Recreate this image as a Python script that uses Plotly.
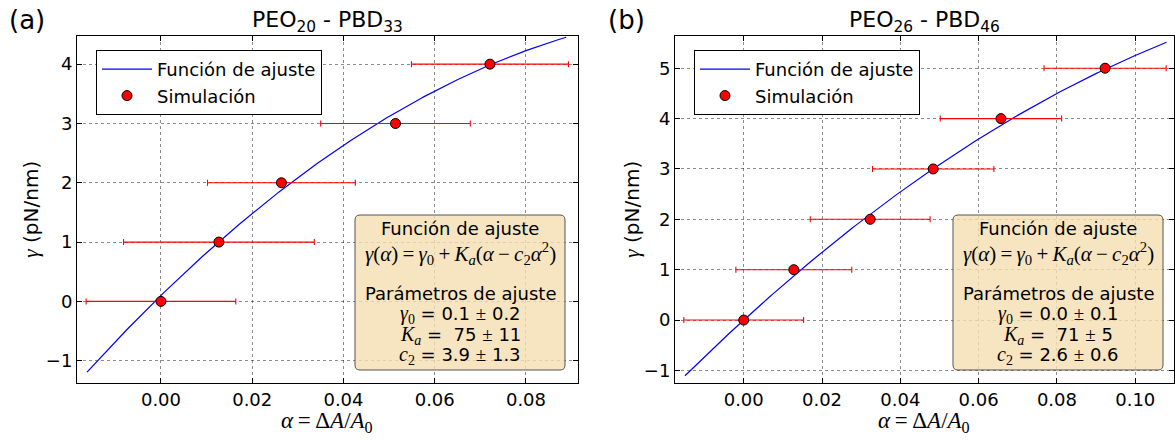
import numpy as np
import plotly.graph_objects as go

# ---------------- data ----------------
# Panel (a): PEO20 - PBD33
alpha_a = [0.0, 0.0127, 0.0264, 0.0514, 0.0721]
gamma_a = [0, 1, 2, 3, 4]
err_a = [0.0164, 0.0209, 0.0162, 0.0164, 0.0172]
fit_a = {"gamma0": 0.1, "Ka": 75.0, "c2": 3.9}
fit_range_a = [-0.0162, 0.0888]

# Panel (b): PEO26 - PBD46
alpha_b = [0.0, 0.0128, 0.0323, 0.0484, 0.0657, 0.0923]
gamma_b = [0, 1, 2, 3, 4, 5]
err_b = [0.0153, 0.0148, 0.0153, 0.0155, 0.0155, 0.0156]
fit_b = {"gamma0": 0.0, "Ka": 71.0, "c2": 2.6}
fit_range_b = [-0.0150, 0.1080]

xticks_a = [0.00, 0.02, 0.04, 0.06, 0.08]
xticks_b = [0.00, 0.02, 0.04, 0.06, 0.08, 0.10]
yticks_a = [-1, 0, 1, 2, 3, 4]
yticks_b = [-1, 0, 1, 2, 3, 4, 5]

params_a = [("0.1", "0.2"), (" 75", "11"), ("3.9", "1.3")]
params_b = [("0.0", "0.1"), (" 71", "5"), ("2.6", "0.6")]

W, H = 1175, 441
SANS = "DejaVu Sans"
SERIF = "Liberation Serif"


def px(x):
    return x / W


def py(y):
    return 1 - y / H


def fit_curve(p, rng):
    a = np.linspace(rng[0], rng[1], 200)
    return a, p["gamma0"] + p["Ka"] * (a - p["c2"] * a ** 2)


fig = go.Figure()

panels = [
    dict(alpha=alpha_a, gamma=gamma_a, err=err_a, fit=fit_a, rng=fit_range_a,
         xa="x", ya="y", legend="legend"),
    dict(alpha=alpha_b, gamma=gamma_b, err=err_b, fit=fit_b, rng=fit_range_b,
         xa="x2", ya="y2", legend="legend2"),
]

for p in panels:
    fx, fy = fit_curve(p["fit"], p["rng"])
    fig.add_trace(go.Scatter(
        x=fx, y=fy, mode="lines", name="Función de ajuste",
        line=dict(color="#0000FF", width=1.2),
        xaxis=p["xa"], yaxis=p["ya"], legend=p["legend"]))
    fig.add_trace(go.Scatter(
        x=p["alpha"], y=p["gamma"], mode="markers", name="Simulación",
        marker=dict(color="#FF0000", size=10, line=dict(color="black", width=1)),
        error_x=dict(type="data", array=p["err"], color="#FF0000",
                     thickness=1.1, width=3),
        xaxis=p["xa"], yaxis=p["ya"], legend=p["legend"]))

axis_common = dict(
    showline=True, linecolor="black", linewidth=1, mirror="ticks",
    ticks="inside", ticklen=5, tickcolor="black", tickwidth=1,
    showgrid=True, gridcolor="rgba(0,0,0,0.45)", griddash="dot", gridwidth=1,
    zeroline=False, tickfont=dict(family=SANS, size=18, color="black"),
)

# plot areas in pixels
A_L, A_R = 77, 578
B_L, B_R = 675, 1174
TOP, BOT = 36, 383

legend_common = dict(xanchor="left", yanchor="top", itemwidth=50,
                     bgcolor="white", bordercolor="black", borderwidth=1,
                     font=dict(family=SANS, size=18, color="black"))

fig.update_layout(
    width=W, height=H,
    margin=dict(l=0, r=0, t=0, b=0),
    paper_bgcolor="white", plot_bgcolor="white",
    xaxis=dict(domain=[px(A_L), px(A_R)], range=[-0.0184, 0.0914],
               tickvals=xticks_a, tickformat=".2f", anchor="y", **axis_common),
    yaxis=dict(domain=[py(BOT), py(TOP)], range=[-1.376, 4.475],
               tickvals=yticks_a, anchor="x", **axis_common),
    xaxis2=dict(domain=[px(B_L), px(B_R)], range=[-0.01755, 0.1099],
                tickvals=xticks_b, tickformat=".2f", anchor="y2", **axis_common),
    yaxis2=dict(domain=[py(BOT), py(TOP)], range=[-1.25, 5.64],
                tickvals=yticks_b, anchor="x2", **axis_common),
    legend=dict(x=px(96), y=py(50), **legend_common),
    legend2=dict(x=px(694), y=py(50), **legend_common),
)


def rounded_rect(x0, y0, x1, y1, r=5):
    pts = [
        ("M", x0 + r, y0), ("L", x1 - r, y0), ("Q", x1, y0, x1, y0 + r),
        ("L", x1, y1 - r), ("Q", x1, y1, x1 - r, y1), ("L", x0 + r, y1),
        ("Q", x0, y1, x0, y1 - r), ("L", x0, y0 + r), ("Q", x0, y0, x0 + r, y0),
    ]
    s = ""
    for item in pts:
        cmd = item[0]
        coords = item[1:]
        parts = []
        for i in range(0, len(coords), 2):
            parts.append(f"{px(coords[i]):.5f},{py(coords[i+1]):.5f}")
        s += cmd + " ".join(parts) + " "
    return s + "Z"


annotations = []


def add_text(x, y, text, size=18, family=SANS, angle=0, xanchor="center"):
    annotations.append(dict(
        x=px(x), y=py(y), xref="paper", yref="paper", text=text,
        showarrow=False, xanchor=xanchor, yanchor="middle", textangle=angle,
        font=dict(family=family, size=size, color="black")))


def serif(t, size=20):
    return (f'<span style="font-family:\'{SERIF}\';font-size:{size}px">'
            f'{t}</span>')


formula = ("<i>γ</i>(<i>α</i>)\u2009=\u2009<i>γ</i><sub>0</sub>\u2009+\u2009"
           "<i>K<sub>a</sub></i>(<i>α</i>\u2009−\u2009<i>c</i><sub>2</sub>"
           "<i>α</i><sup>2</sup>)")

shapes = []
for (bx0, bx1, params) in [(355, 565, params_a), (953, 1163, params_b)]:
    shapes.append(dict(type="path", xref="paper", yref="paper",
                       path=rounded_rect(bx0, 215, bx1, 370, 5),
                       fillcolor="rgba(245,222,179,0.8)",
                       line=dict(color="#555555", width=1), layer="above"))
    cx = (bx0 + bx1) / 2
    add_text(cx, 228, "Función de ajuste")
    add_text(cx, 253, formula, size=21, family=SERIF)
    add_text(cx, 293, "Parámetros de ajuste")
    syms = [serif("<i>γ</i><sub>0</sub>"), serif("<i>K<sub>a</sub></i>"),
            serif("<i>c</i><sub>2</sub>")]
    for yy, sym, (v, e) in zip([314, 335, 355], syms, params):
        add_text(cx, yy, f"{sym} = {v} {serif('±', 19)} {e}")

# titles and labels
add_text(327, 21, "PEO<sub>20</sub> - PBD<sub>33</sub>", size=22)
add_text(924, 21, "PEO<sub>26</sub> - PBD<sub>46</sub>", size=22)
add_text(27, 20, "(a)", size=26)
add_text(626, 20, "(b)", size=26)
xlab = ("<i>α</i>\u2009=\u2009Δ<i>A</i>/<i>A</i><sub>0</sub>")
add_text(327, 422, xlab, size=23, family=SERIF)
add_text(924, 422, xlab, size=23, family=SERIF)
ylab = serif("<i>γ</i>", 22) + " (pN/nm)"
add_text(30, 210, ylab, size=20, angle=-90)
add_text(631, 210, ylab, size=20, angle=-90)

fig.update_layout(shapes=shapes, annotations=annotations)

fig.write_html(
    "out.html",
    config={"displayModeBar": False},
    post_script="document.body.style.margin='0';"
                "document.body.style.overflow='hidden';",
)
